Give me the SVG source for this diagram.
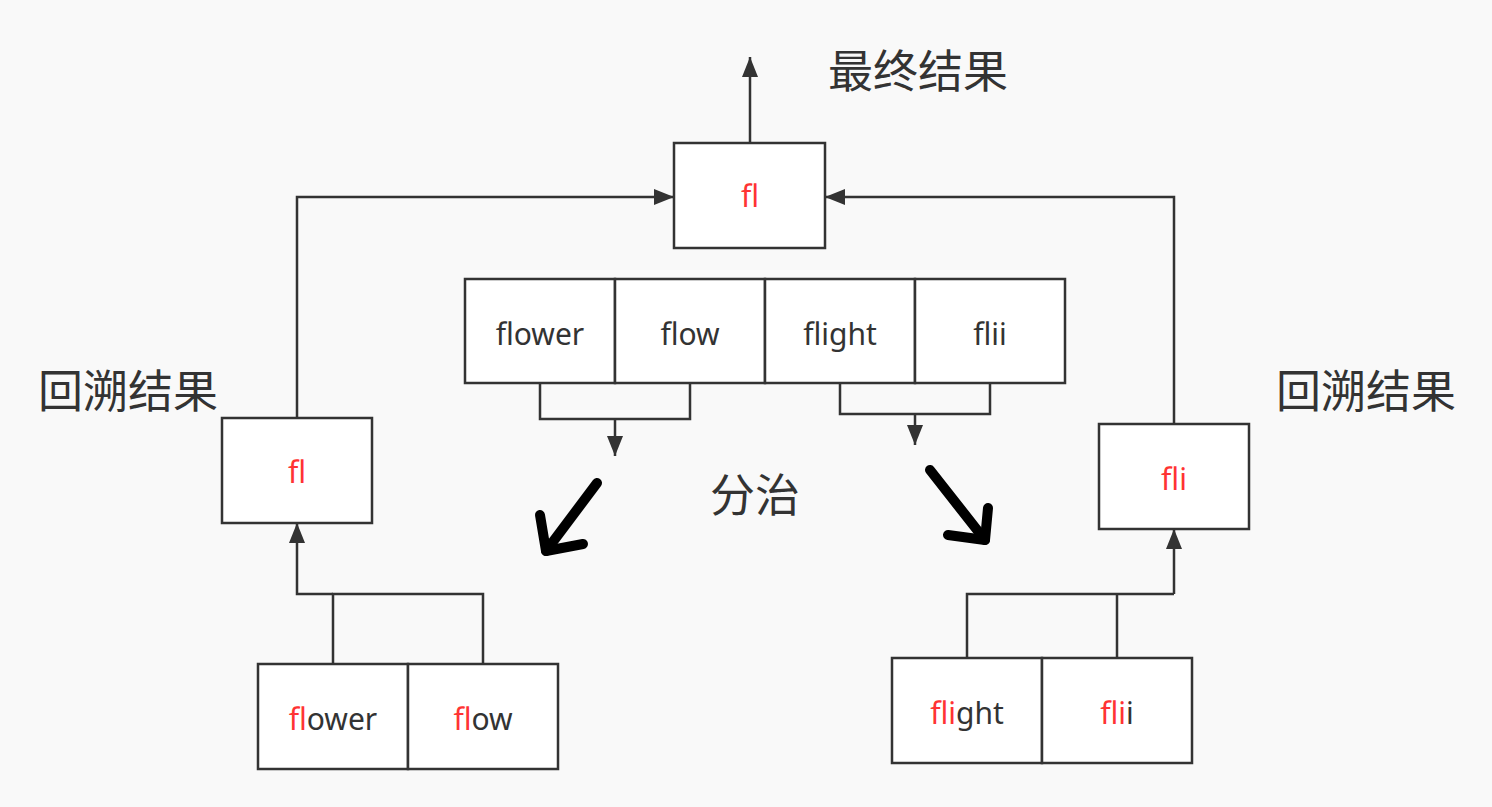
<svg xmlns="http://www.w3.org/2000/svg" width="1492" height="807" viewBox="0 0 1492 807">
<defs>
<style>
.box{fill:#ffffff;stroke:#333333;stroke-width:2.5}
.ln{fill:none;stroke:#333333;stroke-width:2.5}
.t{font-family:"Noto Sans","Noto Sans CJK SC",sans-serif;font-size:30px;fill:#333333;text-anchor:middle}
.r{fill:#ff3333}
.lab{font-family:"Noto Sans CJK SC","Noto Sans",sans-serif;font-size:45px;fill:#333333}
.hand{fill:none;stroke:#000000;stroke-width:10;stroke-linecap:round;stroke-linejoin:round}
</style>
<marker id="ahb" viewBox="0 0 20 16" refX="20" refY="8" markerWidth="20" markerHeight="16" markerUnits="userSpaceOnUse" orient="auto">
<path d="M0,0 L20,8 L0,16 z" fill="#333333"/>
</marker>
</defs>
<rect x="0" y="0" width="1492" height="807" fill="#f9f9f9"/>
<g id="connectors">
<path class="ln" d="M750,143 V57" marker-end="url(#ahb)"/>
<path class="ln" d="M297,418 V197 H674" marker-end="url(#ahb)"/>
<path class="ln" d="M1174,424 V197 H825" marker-end="url(#ahb)"/>
<path class="ln" d="M540,383 V419 H690 V383"/>
<path class="ln" d="M615,419 V456" marker-end="url(#ahb)"/>
<path class="ln" d="M840,383 V414 H990 V383"/>
<path class="ln" d="M915,414 V445" marker-end="url(#ahb)"/>
<path class="ln" d="M333,664 V594 H483 V664"/>
<path class="ln" d="M333,594 H297 V523" marker-end="url(#ahb)"/>
<path class="ln" d="M967,658 V594 H1174"/>
<path class="ln" d="M1117,594 V658"/>
<path class="ln" d="M1174,594 V529" marker-end="url(#ahb)"/>
</g>
<g id="node-top">
<rect class="box" x="674" y="143" width="151" height="105"/>
<text class="t r" x="750" y="207">fl</text>
</g>
<g id="node-mid">
<rect class="box" x="465" y="279" width="150" height="104"/>
<rect class="box" x="615" y="279" width="150" height="104"/>
<rect class="box" x="765" y="279" width="150" height="104"/>
<rect class="box" x="915" y="279" width="150" height="104"/>
<text class="t" x="540" y="345">flower</text>
<text class="t" x="690" y="345">flow</text>
<text class="t" x="840" y="345">flight</text>
<text class="t" x="990" y="345">flii</text>
</g>
<g id="node-left-result">
<rect class="box" x="222" y="418" width="150" height="105"/>
<text class="t r" x="297" y="483">fl</text>
</g>
<g id="node-right-result">
<rect class="box" x="1099" y="424" width="150" height="105"/>
<text class="t r" x="1174" y="490">fli</text>
</g>
<g id="node-bottom-left">
<rect class="box" x="258" y="664" width="150" height="105"/>
<rect class="box" x="408" y="664" width="150" height="105"/>
<text class="t" x="333" y="730"><tspan class="r">fl</tspan>ower</text>
<text class="t" x="483" y="730"><tspan class="r">fl</tspan>ow</text>
</g>
<g id="node-bottom-right">
<rect class="box" x="892" y="658" width="150" height="105"/>
<rect class="box" x="1042" y="658" width="150" height="105"/>
<text class="t" x="967" y="724"><tspan class="r">fli</tspan>ght</text>
<text class="t" x="1117" y="724"><tspan class="r">fli</tspan>i</text>
</g>
<g id="labels">
<text class="lab" x="828" y="88">最终结果</text>
<text class="lab" x="38" y="408">回溯结果</text>
<text class="lab" x="1276" y="408">回溯结果</text>
<text class="lab" x="710" y="512">分治</text>
</g>
<g id="hand-arrows">
<path class="hand" d="M597,483 L546,551"/>
<path class="hand" d="M540,515 L546,551 L583,544"/>
<path class="hand" d="M930,470 L985,540"/>
<path class="hand" d="M988,508 L985,540 L948,535"/>
</g>
</svg>
